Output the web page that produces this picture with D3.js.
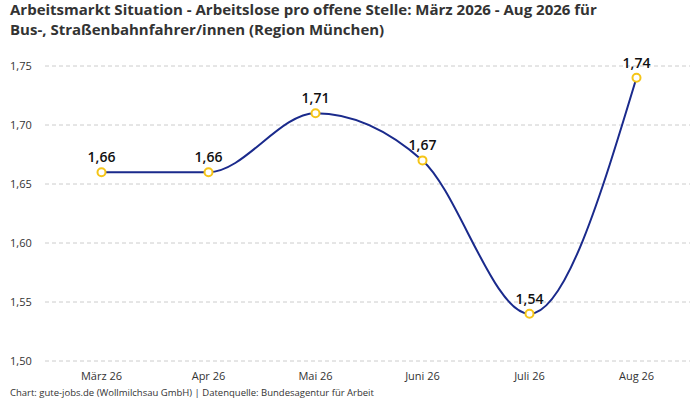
<!DOCTYPE html>
<html><head><meta charset="utf-8">
<script src="https://cdn.jsdelivr.net/npm/d3@7"></script>
<style>body{margin:0;font-family:"Open Sans",sans-serif;}</style>
</head><body><svg></svg>
<script>
const width = 700, height = 400;
const margin = { top: 66, right: 10, bottom: 39, left: 48 };

const monate = ["März 26", "Apr 26", "Mai 26", "Juni 26", "Juli 26", "Aug 26"];
const werte = [1.66, 1.66, 1.71, 1.67, 1.54, 1.74];
const yTicks = [1.50, 1.55, 1.60, 1.65, 1.70, 1.75];
const fmt = v => v.toFixed(2).replace(".", ",");

const svg = d3.select("svg").attr("width", width).attr("height", height);

const x = d3.scaleBand().domain(monate).range([margin.left, width - margin.right]);
const y = d3.scaleLinear().domain([1.50, 1.75]).range([height - margin.bottom, margin.top]);

// Titel
svg.append("text").attr("x", 10).attr("y", 15).attr("font-size", 15).attr("font-weight", "bold")
  .attr("fill", "#333").text("Arbeitsmarkt Situation - Arbeitslose pro offene Stelle: März 2026 - Aug 2026 für");
svg.append("text").attr("x", 10).attr("y", 35).attr("font-size", 15).attr("font-weight", "bold")
  .attr("fill", "#333").text("Bus-, Straßenbahnfahrer/innen (Region München)");

// Gitter + y-Achse
const grid = svg.append("g");
grid.selectAll("line").data(yTicks).join("line")
  .attr("x1", margin.left - 3).attr("x2", width - margin.right)
  .attr("y1", d => y(d)).attr("y2", d => y(d))
  .attr("stroke", "#ccc").attr("stroke-dasharray", "4,3");
grid.selectAll("text").data(yTicks).join("text")
  .attr("x", 10).attr("y", d => y(d) + 4).attr("font-size", 11).attr("fill", "#333")
  .text(fmt);

// x-Achse
svg.append("g").selectAll("text").data(monate).join("text")
  .attr("x", d => x(d) + x.bandwidth() / 2).attr("y", height - 20)
  .attr("text-anchor", "middle").attr("font-size", 11).attr("fill", "#333").text(d => d);

const cx = (d, i) => x(monate[i]) + x.bandwidth() / 2;

svg.append("path").datum(werte)
  .attr("d", d3.line().x(cx).y(d => y(d)).curve(d3.curveMonotoneX))
  .attr("fill", "none").attr("stroke", "#1a2a8c").attr("stroke-width", 2);

svg.selectAll("circle").data(werte).join("circle")
  .attr("cx", cx).attr("cy", d => y(d)).attr("r", 4)
  .attr("fill", "#fff").attr("stroke", "#f5c518").attr("stroke-width", 2);

svg.append("g").selectAll("text").data(werte).join("text")
  .attr("x", cx).attr("y", d => y(d) - 10).attr("text-anchor", "middle")
  .attr("font-size", 14).attr("font-weight", 600).attr("fill", "#111").text(fmt);

svg.append("text").attr("x", 10).attr("y", 396).attr("font-size", 9.5).attr("fill", "#333")
  .text("Chart: gute-jobs.de (Wollmilchsau GmbH) | Datenquelle: Bundesagentur für Arbeit");
</script></body></html>
